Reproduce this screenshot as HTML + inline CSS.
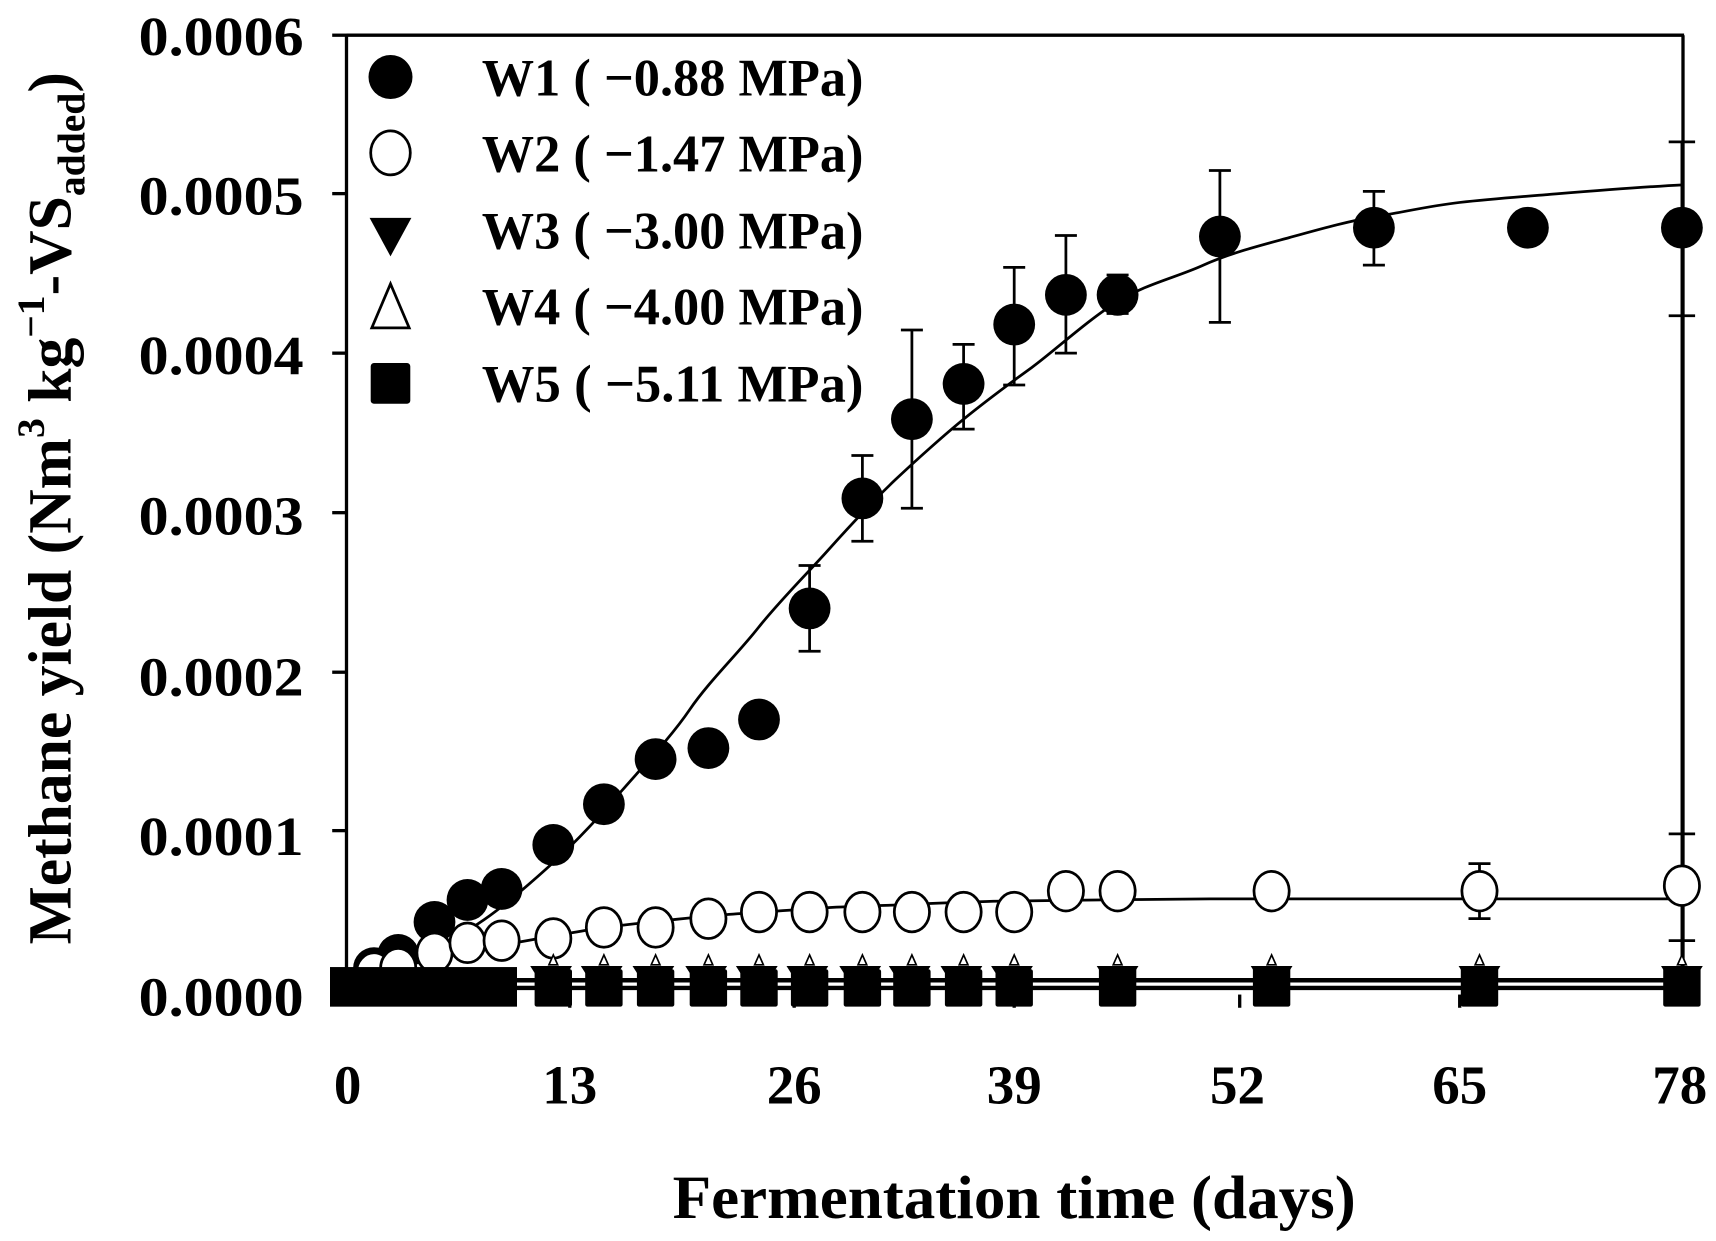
<!DOCTYPE html>
<html><head><meta charset="utf-8"><style>html,body{margin:0;padding:0;background:#fff}svg{display:block}</style></head>
<body>
<svg width="1716" height="1241" viewBox="0 0 1560 1128" preserveAspectRatio="none" xmlns="http://www.w3.org/2000/svg" font-family="Liberation Serif, serif" font-weight="bold">
<rect width="1560" height="1128" fill="#fff"/>
<g stroke="#000" stroke-width="3" fill="none">
<line x1="315" y1="32" x2="1531" y2="32"/>
<line x1="315" y1="32" x2="315" y2="910"/>
<line x1="1530" y1="32" x2="1530" y2="900"/>
<line x1="302" y1="32" x2="315" y2="32"/>
<line x1="302" y1="176" x2="315" y2="176"/>
<line x1="302" y1="321" x2="315" y2="321"/>
<line x1="302" y1="466" x2="315" y2="466"/>
<line x1="302" y1="611" x2="315" y2="611"/>
<line x1="302" y1="755" x2="315" y2="755"/>
<line x1="302" y1="900" x2="315" y2="900"/>
<line x1="518" y1="904" x2="518" y2="916"/>
<line x1="722" y1="904" x2="722" y2="916"/>
<line x1="922" y1="904" x2="922" y2="916"/>
<line x1="1127" y1="904" x2="1127" y2="916"/>
<line x1="1327" y1="904" x2="1327" y2="916"/>
</g>
<g font-size="50" text-anchor="end" fill="#000">
<text x="276" y="50" textLength="150" lengthAdjust="spacingAndGlyphs">0.0006</text>
<text x="276" y="195" textLength="150" lengthAdjust="spacingAndGlyphs">0.0005</text>
<text x="276" y="340" textLength="150" lengthAdjust="spacingAndGlyphs">0.0004</text>
<text x="276" y="486" textLength="150" lengthAdjust="spacingAndGlyphs">0.0003</text>
<text x="276" y="632" textLength="150" lengthAdjust="spacingAndGlyphs">0.0002</text>
<text x="276" y="777" textLength="150" lengthAdjust="spacingAndGlyphs">0.0001</text>
<text x="276" y="923" textLength="150" lengthAdjust="spacingAndGlyphs">0.0000</text>
</g>
<g font-size="50" text-anchor="middle" fill="#000">
<text x="316" y="1003">0</text>
<text x="518" y="1003">13</text>
<text x="722" y="1003">26</text>
<text x="922" y="1003">39</text>
<text x="1125" y="1003">52</text>
<text x="1327" y="1003">65</text>
<text x="1527" y="1003">78</text>
</g>
<text x="922" y="1107" font-size="56" text-anchor="middle" textLength="621" lengthAdjust="spacingAndGlyphs">Fermentation time (days)</text>
<text transform="translate(64,462) rotate(-90)" font-size="56" text-anchor="middle">Methane yield (Nm<tspan font-size="36" dy="-24">3</tspan><tspan dy="24"> kg</tspan><tspan font-size="36" dy="-24">−1</tspan><tspan dy="24">-VS</tspan><tspan font-size="36" dy="13">added</tspan><tspan dy="-13">)</tspan></text>

<circle cx="355" cy="70" r="20" fill="#000"/>
<ellipse cx="355" cy="139" rx="18" ry="20" fill="#fff" stroke="#000" stroke-width="2.5"/>
<polygon points="336,198 374,198 355,233" fill="#000"/>
<polygon points="338,298 372,298 355,258" fill="#fff" stroke="#000" stroke-width="2.5"/>
<rect x="337" y="330" width="36" height="37" rx="3" fill="#000"/>
<g font-size="48" fill="#000">
<text x="438" y="87" textLength="347" lengthAdjust="spacingAndGlyphs">W1 ( −0.88 MPa)</text>
<text x="438" y="156" textLength="347" lengthAdjust="spacingAndGlyphs">W2 ( −1.47 MPa)</text>
<text x="438" y="226" textLength="347" lengthAdjust="spacingAndGlyphs">W3 ( −3.00 MPa)</text>
<text x="438" y="295" textLength="347" lengthAdjust="spacingAndGlyphs">W4 ( −4.00 MPa)</text>
<text x="438" y="365" textLength="347" lengthAdjust="spacingAndGlyphs">W5 ( −5.11 MPa)</text>
</g>

<g stroke="#000" stroke-width="2.5" fill="none">
<path d="M503 768V757M493 757h20"/>
<path d="M736 514V592M726 514h20M726 592h20"/>
<path d="M784 414V492M774 414h20M774 492h20"/>
<path d="M829 300V462M819 300h20M819 462h20"/>
<path d="M876 313V390M866 313h20M866 390h20"/>
<path d="M922 243V350M912 243h20M912 350h20"/>
<path d="M969 214V321M959 214h20M959 321h20"/>
<path d="M1016 250V285M1006 250h20M1006 285h20"/>
<path d="M1109 155V293M1099 155h20M1099 293h20"/>
<path d="M1249 174V241M1239 174h20M1239 241h20"/>
<path d="M1529 129V900M1517 129h24M1517 287h24M1517 758h24M1517 855h24"/>
<path d="M1345 785V835M1335 785h20M1335 835h20"/>
</g>

<path fill="none" stroke="#000" stroke-width="2.5" d="M316,898 C340,892 360,880 378,871 S420,850 440,836 S480,805 503,784 S545,742 565,719 S610,670 627,645 S670,595 689,571 S735,520 752,501 S795,454 814,436 S860,394 876,381 S920,347 938,334 S990,290 1016,274 S1070,252 1094,241 S1150,222 1172,216 S1225,201 1250,197 S1300,187 1327,184 S1380,179 1405,177 S1490,170 1530,168"/>
<path fill="none" stroke="#000" stroke-width="2.5" d="M316,898 C340,888 360,880 380,875 S430,863 450,860 S520,847 550,843 S620,835 640,833 S710,828 736,826 S810,823 830,822 S900,819 922,819 S1050,817 1100,817 L1530,817"/>
<line x1="316" y1="891" x2="1530" y2="891" stroke="#000" stroke-width="4"/>
<line x1="316" y1="898" x2="1530" y2="898" stroke="#000" stroke-width="4"/>

<g fill="#000">
<circle cx="340" cy="880" r="19"/><circle cx="362" cy="868" r="19"/><circle cx="395" cy="838" r="19"/>
<circle cx="425" cy="818" r="19"/><circle cx="456" cy="808" r="19"/><circle cx="503" cy="768" r="19"/>
<circle cx="549" cy="731" r="19"/><circle cx="596" cy="690" r="19"/><circle cx="644" cy="680" r="19"/>
<circle cx="690" cy="654" r="19"/><circle cx="736" cy="553" r="19"/><circle cx="784" cy="453" r="19"/>
<circle cx="829" cy="381" r="19"/><circle cx="876" cy="349" r="19"/><circle cx="922" cy="295" r="19"/>
<circle cx="969" cy="268" r="19"/><circle cx="1016" cy="268" r="19"/><circle cx="1109" cy="215" r="19"/>
<circle cx="1249" cy="207" r="19"/><circle cx="1389" cy="207" r="19"/><circle cx="1529" cy="207" r="19"/>
</g>
<g fill="#fff" stroke="#000" stroke-width="2.5">
<ellipse cx="340" cy="884" rx="16" ry="18"/><ellipse cx="362" cy="880" rx="16" ry="18"/><ellipse cx="395" cy="866" rx="16" ry="18"/>
<ellipse cx="425" cy="857" rx="16" ry="18"/><ellipse cx="456" cy="855" rx="16" ry="18"/><ellipse cx="503" cy="853" rx="16" ry="18"/>
<ellipse cx="549" cy="843" rx="16" ry="18"/><ellipse cx="596" cy="843" rx="16" ry="18"/><ellipse cx="644" cy="835" rx="16" ry="18"/>
<ellipse cx="690" cy="829" rx="16" ry="18"/><ellipse cx="736" cy="829" rx="16" ry="18"/><ellipse cx="784" cy="829" rx="16" ry="18"/>
<ellipse cx="829" cy="829" rx="16" ry="18"/><ellipse cx="876" cy="829" rx="16" ry="18"/><ellipse cx="922" cy="829" rx="16" ry="18"/>
<ellipse cx="969" cy="810" rx="16" ry="18"/><ellipse cx="1016" cy="810" rx="16" ry="18"/><ellipse cx="1156" cy="810" rx="16" ry="18"/>
<ellipse cx="1345" cy="810" rx="16" ry="18"/><ellipse cx="1529" cy="805" rx="16" ry="18"/>
</g>
<g fill="#000">
<rect x="300" y="879" width="170" height="36"/>
<path d="M482 878h38l-19 30zM528 878h38l-19 30zM575 878h38l-19 30zM623 878h38l-19 30zM669 878h38l-19 30zM715 878h38l-19 30zM763 878h38l-19 30zM808 878h38l-19 30zM855 878h38l-19 30zM901 878h38l-19 30zM997 878h38l-19 30zM1137 878h38l-19 30zM1326 878h38l-19 30zM1510 878h38l-19 30z"/>
<rect x="486" y="881" width="34" height="34" rx="2"/><rect x="532" y="881" width="34" height="34" rx="2"/>
<rect x="579" y="881" width="34" height="34" rx="2"/><rect x="627" y="881" width="34" height="34" rx="2"/>
<rect x="673" y="881" width="34" height="34" rx="2"/><rect x="719" y="881" width="34" height="34" rx="2"/>
<rect x="767" y="881" width="34" height="34" rx="2"/><rect x="812" y="881" width="34" height="34" rx="2"/>
<rect x="859" y="881" width="34" height="34" rx="2"/><rect x="905" y="881" width="34" height="34" rx="2"/>
<rect x="999" y="879" width="34" height="36" rx="2"/><rect x="1139" y="879" width="34" height="36" rx="2"/>
<rect x="1328" y="879" width="34" height="36" rx="2"/><rect x="1512" y="879" width="34" height="36" rx="2"/>
</g>
<g fill="#fff" stroke="#000" stroke-width="1.5">
<path d="M503 868l-4 9h8zM549 868l-4 9h8zM596 868l-4 9h8zM644 868l-4 9h8zM690 868l-4 9h8zM736 868l-4 9h8zM784 868l-4 9h8zM829 868l-4 9h8zM876 868l-4 9h8zM922 868l-4 9h8zM1016 868l-4 9h8zM1156 868l-4 9h8zM1345 868l-4 9h8zM1529 868l-4 9h8z"/>
</g>
</svg>
</body></html>
